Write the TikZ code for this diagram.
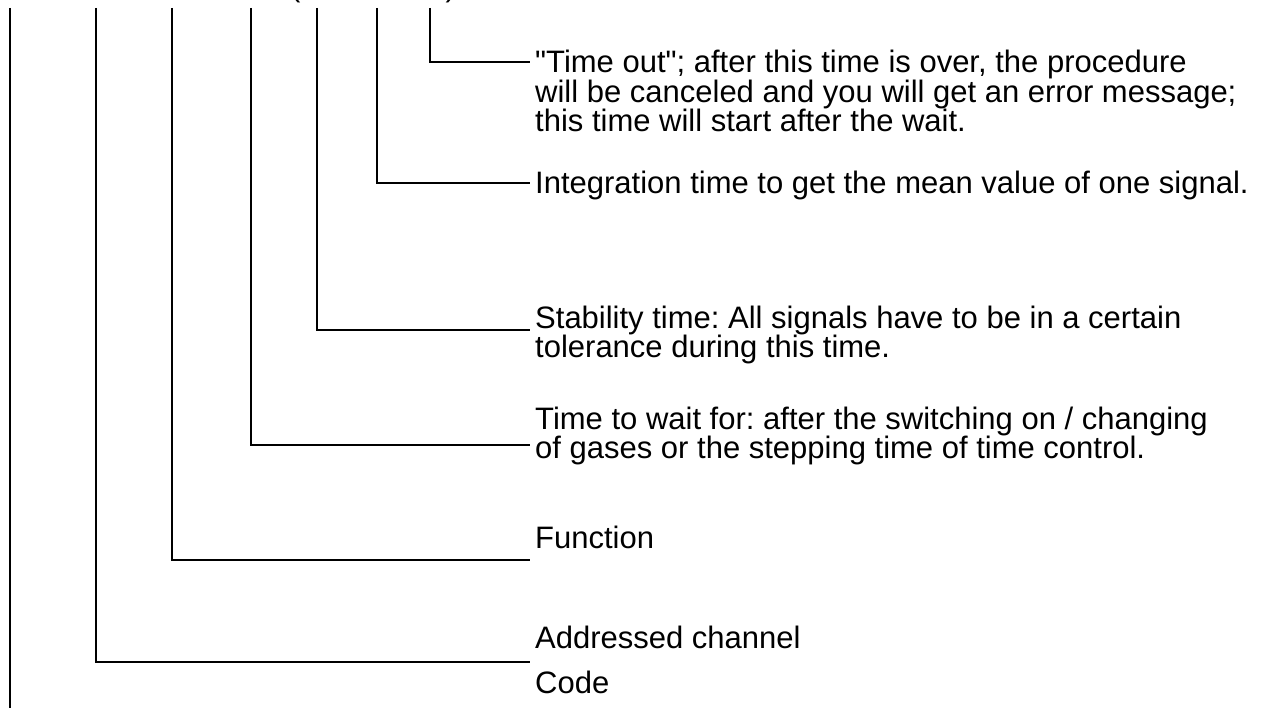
\documentclass[tikz,border=0pt]{standalone}
\usepackage{fontspec}
\setmainfont{Liberation Sans}
\usetikzlibrary{positioning}
\frenchspacing

\begin{document}
\begin{tikzpicture}[
    x=1pt, y=-1pt,
    note/.style={
        anchor=base west,
        align=left,
        inner sep=0pt,
        font=\fontsize{31}{29.5}\selectfont
    },
    lead/.style={line width=1.5pt}
]
\useasboundingbox (0,0) rectangle (1268,708);

% cut-off heading above the leads
\node[note] (head) at (290,-3.5) {(\hspace{145pt})};

% upper ends of the leads
\coordinate (tCode)    at (10,8);
\coordinate (tChannel) at (96,8);
\coordinate (tFunc)    at (172,8);
\coordinate (tWait)    at (251,8);
\coordinate (tStable)  at (317,8);
\coordinate (tInteg)   at (377,8);
\coordinate (tOut)     at (430,8);

% explanations (base = last line)
\node[note] (out) at (535,132) {\textquotedbl Time out\textquotedbl; after this time is over, the procedure\\
    will be canceled and you will get an error message;\\
    this time will start after the wait.};
\node[note] (integ) at (535,194) {Integration time to get the mean value of one signal.};
\node[note] (stable) at (535,357.5) {Stability time: All signals have to be in a certain\\
    tolerance during this time.};
\node[note] (wait) at (535,458.5) {Time to wait for: after the switching on / changing\\
    of gases or the stepping time of time control.};
\node[note] (func) at (535,548) {Function};
\node[note] (channel) at (535,648) {Addressed channel};
\node[note] (code) at (535,693) {Code};

% leads
\draw[lead] (tOut) |- ([xshift=-5pt,yshift=70pt]out.base west);
\draw[lead] (tInteg) |- ([xshift=-5pt,yshift=11pt]integ.base west);
\draw[lead] (tStable) |- ([xshift=-5pt,yshift=27.5pt]stable.base west);
\draw[lead] (tWait) |- ([xshift=-5pt,yshift=13.5pt]wait.base west);
\draw[lead] (tFunc) |- ([xshift=-5pt,yshift=-12pt]func.base west);
\draw[lead] (tChannel) |- ([xshift=-5pt,yshift=-14pt]channel.base west);
\draw[lead] (tCode) -- ([yshift=-30pt]tCode |- code.south);

\end{tikzpicture}
\end{document}
